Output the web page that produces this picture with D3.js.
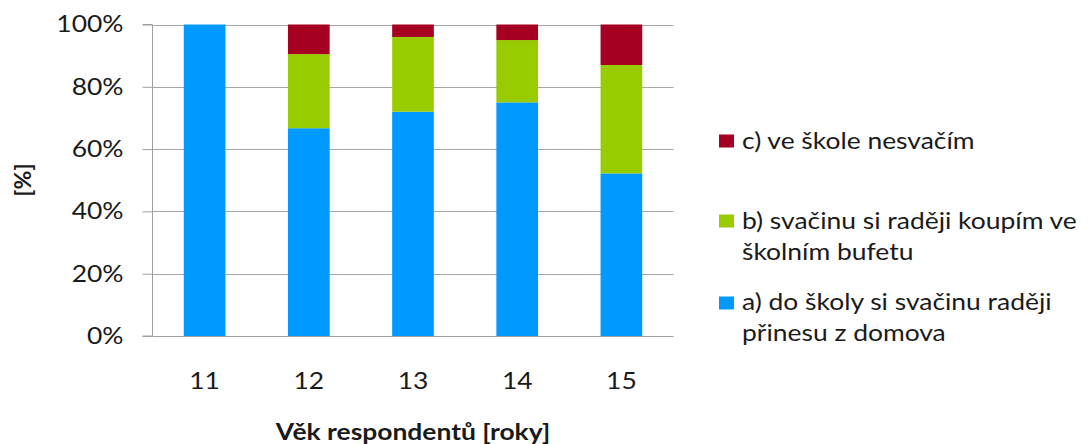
<!DOCTYPE html>
<html>
<head>
<meta charset="utf-8">
<script src="https://cdn.jsdelivr.net/npm/d3@7"></script>
<style>
  html, body { margin: 0; padding: 0; background: #fff; }
  svg { display: block; }
  text { font-family: Lato, "Open Sans", sans-serif; fill: #1a1a1a; }
</style>
</head>
<body>
<svg id="chart" width="1088" height="444"></svg>
<script>
// Věk respondentů (roky)
const ages = ["11", "12", "13", "14", "15"];

// Podíl odpovědí v % pro každý věk
const seriesA = [100, 66.7, 72, 75, 52.2];  // a) přinese z domova
const seriesB = [0, 23.8, 24, 20, 34.8];     // b) koupí ve školním bufetu
const seriesC = [0, 9.5, 4, 5, 13.0];        // c) nesvačí

const seriesKeys = ["a", "b", "c"];
const seriesLabels = {
  a: ["a) do školy si svačinu raději", "přinesu z domova"],
  b: ["b) svačinu si raději koupím ve", "školním bufetu"],
  c: ["c) ve škole nesvačím"]
};
const colors = { a: "#0099ff", b: "#99cc00", c: "#a50021" };

const yTicks = [0, 20, 40, 60, 80, 100];
const yTickLabels = ["0%", "20%", "40%", "60%", "80%", "100%"];

const rows = ages.map((age, i) => ({ age, a: seriesA[i], b: seriesB[i], c: seriesC[i] }));

// glyphs are drawn slightly wide, as in the original document layout
const SX = 1.15;
const FONT = "23px";

const svg = d3.select("#chart");
const plot = { left: 152.5, right: 673.5, top: 24.5, bottom: 336 };

const x = d3.scaleBand()
  .domain(ages)
  .range([plot.left, plot.right])
  .paddingInner(0.6)
  .paddingOuter(0.3);

const y = d3.scaleLinear()
  .domain([0, 100])
  .range([plot.bottom, plot.top]);

// place a horizontally widened label
function label(parent, px, py, str, anchor, bold) {
  return parent.append("text")
    .attr("transform", `translate(${px},${py}) scale(${SX},1)`)
    .attr("text-anchor", anchor || "start")
    .style("font-size", FONT)
    .style("font-weight", bold ? "bold" : "normal")
    .text(str);
}

// horizontal gridlines
svg.append("g")
  .selectAll("line")
  .data(yTicks.slice(1))
  .join("line")
  .attr("x1", plot.left)
  .attr("x2", plot.right)
  .attr("y1", d => Math.round(y(d)) + 0.5)
  .attr("y2", d => Math.round(y(d)) + 0.5)
  .attr("stroke", "#a6a6a6")
  .attr("stroke-width", 1);

// stacked bars
const stacked = d3.stack().keys(seriesKeys)(rows);
svg.append("g")
  .selectAll("g")
  .data(stacked)
  .join("g")
  .attr("fill", d => colors[d.key])
  .selectAll("rect")
  .data(d => d.filter(s => s[1] - s[0] > 0))
  .join("rect")
  .attr("x", d => x(d.data.age))
  .attr("width", x.bandwidth())
  .attr("y", d => y(d[1]))
  .attr("height", d => y(d[0]) - y(d[1]));

// y axis
const yAxis = d3.axisLeft(y)
  .tickValues(yTicks)
  .tickFormat((d, i) => yTickLabels[i])
  .tickSize(10)
  .tickPadding(19);
const gy = svg.append("g")
  .attr("transform", `translate(${plot.left},0)`)
  .call(yAxis);
gy.select(".domain")
  .attr("stroke", "#a0a0a0")
  .attr("d", `M-10,${plot.bottom}H0V${plot.top}H-10`);
gy.selectAll(".tick line").attr("stroke", "#a0a0a0");
gy.selectAll(".tick text")
  .attr("x", -29 / SX)
  .attr("transform", `scale(${SX},1)`)
  .style("font-family", "Lato, sans-serif")
  .style("font-size", FONT)
  .attr("fill", "#1a1a1a");

// x axis
const xAxis = d3.axisBottom(x).tickSize(0).tickPadding(36);
const gx = svg.append("g")
  .attr("transform", `translate(0,${Math.round(plot.bottom) + 0.5})`)
  .call(xAxis);
gx.select(".domain").attr("stroke", "#a0a0a0").attr("d", `M${plot.left},0H${plot.right}`);
gx.selectAll(".tick text")
  .attr("transform", `scale(${SX},1)`)
  .style("font-family", "Lato, sans-serif")
  .style("font-size", FONT)
  .attr("fill", "#1a1a1a");

// axis titles
label(svg, (plot.left + plot.right) / 2, 440, "Věk respondentů [roky]", "middle", true);

svg.append("text")
  .attr("transform", "translate(31,180) rotate(-90)")
  .attr("text-anchor", "middle")
  .style("font-size", FONT)
  .style("font-weight", "bold")
  .text("[%]");

// legend
const legendItems = [
  { key: "c", markY: 141, lineY: [149] },
  { key: "b", markY: 221, lineY: [229, 260] },
  { key: "a", markY: 303, lineY: [310, 341] }
];
const legend = svg.append("g");
legendItems.forEach(item => {
  legend.append("rect")
    .attr("x", 719)
    .attr("y", item.markY - 6.5)
    .attr("width", 15)
    .attr("height", 13)
    .attr("fill", colors[item.key]);
  seriesLabels[item.key].forEach((line, j) => {
    label(legend, 742, item.lineY[j], line, "start", false);
  });
});
</script>
</body>
</html>
